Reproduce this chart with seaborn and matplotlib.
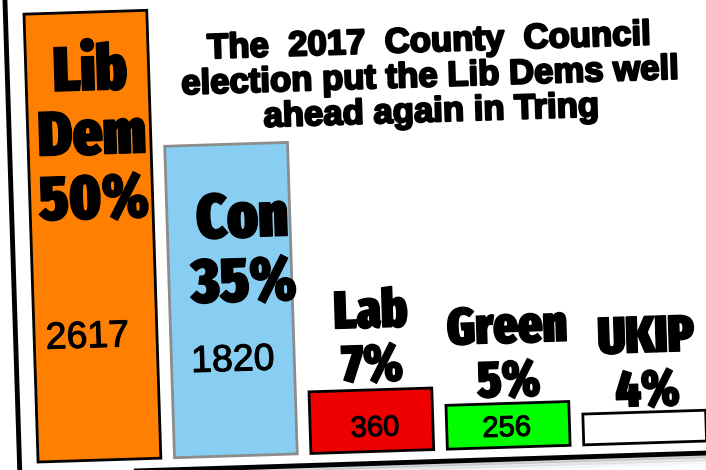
import numpy as np
import pandas as pd
import matplotlib
matplotlib.use("Agg")
import matplotlib.pyplot as plt
import matplotlib.patheffects as pe
from matplotlib import font_manager as fm
import seaborn as sns
from matplotlib.transforms import Affine2D

parties = ["Lib Dem", "Con", "Lab", "Green", "UKIP"]
label_names = ["Lib\nDem", "Con", "Lab", "Green", "UKIP"]
shares = [50, 35, 7, 5, 4]
votes = [2617, 1820, 360, 256, 180]
vote_text = ["2617", "1820", "360", "256", ""]
fill_colors = ["#FF8000", "#88CEF2", "#EE0000", "#00FF00", "#FFFFFF"]
edge_colors = ["#000000", "#8C8C8C", "#000000", "#000000", "#000000"]
title = "The  2017  County  Council\nelection put the Lib Dems well\nahead again in Tring"

# layout (data units) for the labels
name_xy = [(0.02, 1887), (1.10, 1189), (2.02, 651), (3.015, 537), (4.03, 456)]
name_size = [45, 45, 38, 37, 37]
vote_xy = [(-0.06, 718), (1.0, 555), (2.025, 136), (2.99, 111), (4.0, 90)]
vote_size = [27, 27, 21, 21, 21]

TILT = 1.8  # whole card is turned slightly anticlockwise
W, H = 706, 470


def condensed_font():
    # look for a heavy, narrow face (Impact-like) among the installed fonts
    best, best_key = None, None
    for f in fm.fontManager.ttflist:
        nm = (f.name + " " + f.fname).lower().replace(" ", "").replace("-", "")
        cond = ("condensed" in nm or "narrow" in nm or
                str(f.stretch) in ("condensed", "semi-condensed", "extra-condensed"))
        if not cond or "italic" in nm or f.style != "normal":
            continue
        try:
            w = int(f.weight)
        except (TypeError, ValueError):
            w = 700 if "bold" in str(f.weight) else 400
        if w < 700 or "semi" in nm or "ultra" in nm:
            continue
        extra = "extracondensed" in nm or str(f.stretch) == "extra-condensed"
        key = (extra, w)
        if best_key is None or key > best_key:
            best, best_key = f.fname, key
    if best:
        return fm.FontProperties(fname=best)
    return fm.FontProperties(family="DejaVu Sans", weight="bold")


sns.set_theme(style="white")
plt.rcParams["font.family"] = ["Liberation Sans", "DejaVu Sans"]
narrow = condensed_font()

fig = plt.figure(figsize=(W / 100, H / 100), dpi=100)
fig.patch.set_facecolor("white")
ax = fig.add_axes([0, 0, 1, 1])

df = pd.DataFrame({"party": parties, "votes": votes})
sns.barplot(data=df, x="party", y="votes", hue="party", palette=fill_colors,
            saturation=1, legend=False, width=0.9, linewidth=2,
            edgecolor="black", ax=ax)
for cont, ec in zip(ax.containers, edge_colors):
    for p in cont:
        p.set_edgecolor(ec)

ax.set_xlim(-0.6777, 4.4945)
ax.set_ylim(-105, 2640)
ax.axis("off")

rot = Affine2D().rotate_deg_around(W / 2, H / 2, TILT)
for p in ax.patches:
    p.set_transform(ax.transData + rot)
    p.set_clip_on(False)

tdata = ax.transData + rot
heavy = [pe.withStroke(linewidth=1.0, foreground="black")]
for name, share, (x, y), fs in zip(label_names, shares, name_xy, name_size):
    fp = narrow.copy()
    fp.set_size(fs)
    ax.text(x, y, f"{name}\n{share}%", transform=tdata, rotation=TILT,
            rotation_mode="anchor", ha="center", va="center",
            fontproperties=fp, linespacing=1.04, color="black",
            path_effects=heavy)

for txt, (x, y), fs in zip(vote_text, vote_xy, vote_size):
    if txt:
        ax.text(x, y, txt, transform=tdata, rotation=TILT,
                rotation_mode="anchor", ha="center", va="center",
                fontsize=fs, color="black",
                path_effects=[pe.withStroke(linewidth=0.8, foreground="black")])

tax = ax.transAxes + rot
ax.text(0.616, 0.831, title, transform=tax, rotation=TILT,
        rotation_mode="anchor", ha="center", va="center",
        fontsize=25, fontweight="bold", linespacing=1.08, color="black",
        path_effects=[pe.withStroke(linewidth=1.6, foreground="black")])

# card edge with a soft shadow
for off, a in [(9, 0.08), (6, 0.18), (3, 0.35)]:
    ax.plot([12.5 / W, 1.2], [(6 - off) / H] * 2, color="grey", alpha=a,
            lw=3, transform=tax, clip_on=False, solid_capstyle="butt")
ax.plot([12.5 / W, 12.5 / W], [6 / H, 1.2], color="black", lw=3.5,
        transform=tax, clip_on=False, solid_capstyle="butt")
ax.plot([10 / W, 1.2], [6 / H, 6 / H], color="black", lw=3.5,
        transform=tax, clip_on=False, solid_capstyle="butt")

fig.savefig("out.png", dpi=100, facecolor="white")
